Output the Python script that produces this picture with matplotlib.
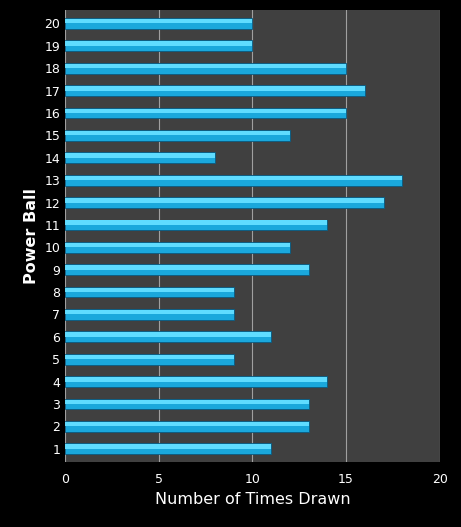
import matplotlib
matplotlib.use("Agg")
import matplotlib.pyplot as plt

balls = list(range(1, 21))
counts = [11, 13, 13, 14, 9, 11, 9, 9, 13, 12, 14, 17, 18, 8, 12, 15, 16, 15, 10, 10]

fig = plt.figure(figsize=(4.61, 5.27), dpi=100, facecolor="black")
ax = fig.add_axes([0.141, 0.123, 0.813, 0.858], facecolor="#404040")

ax.barh(balls, counts, height=0.48, color="#1AA8DC", edgecolor="#0A5A80", linewidth=0.6, zorder=3)
ax.barh([b + 0.1 for b in balls], counts, height=0.2, color="#5FDCFF", linewidth=0, zorder=4)

ax.set_xlim(0, 20)
ax.set_ylim(0.4, 20.6)
ax.set_xticks([0, 5, 10, 15, 20])
ax.set_yticks(balls)
ax.grid(axis="x", color="#A0A0A0", linewidth=0.8, zorder=0)
for s in ax.spines.values():
    s.set_visible(False)
ax.tick_params(colors="white", labelsize=9, length=0)
ax.tick_params(axis="x", pad=8)
ax.set_xlabel("Number of Times Drawn", color="white", fontsize=11.5)
ax.set_ylabel("Power Ball", color="white", fontsize=11.5, fontweight="bold")
fig.savefig("out.png", dpi=100, facecolor="black")
